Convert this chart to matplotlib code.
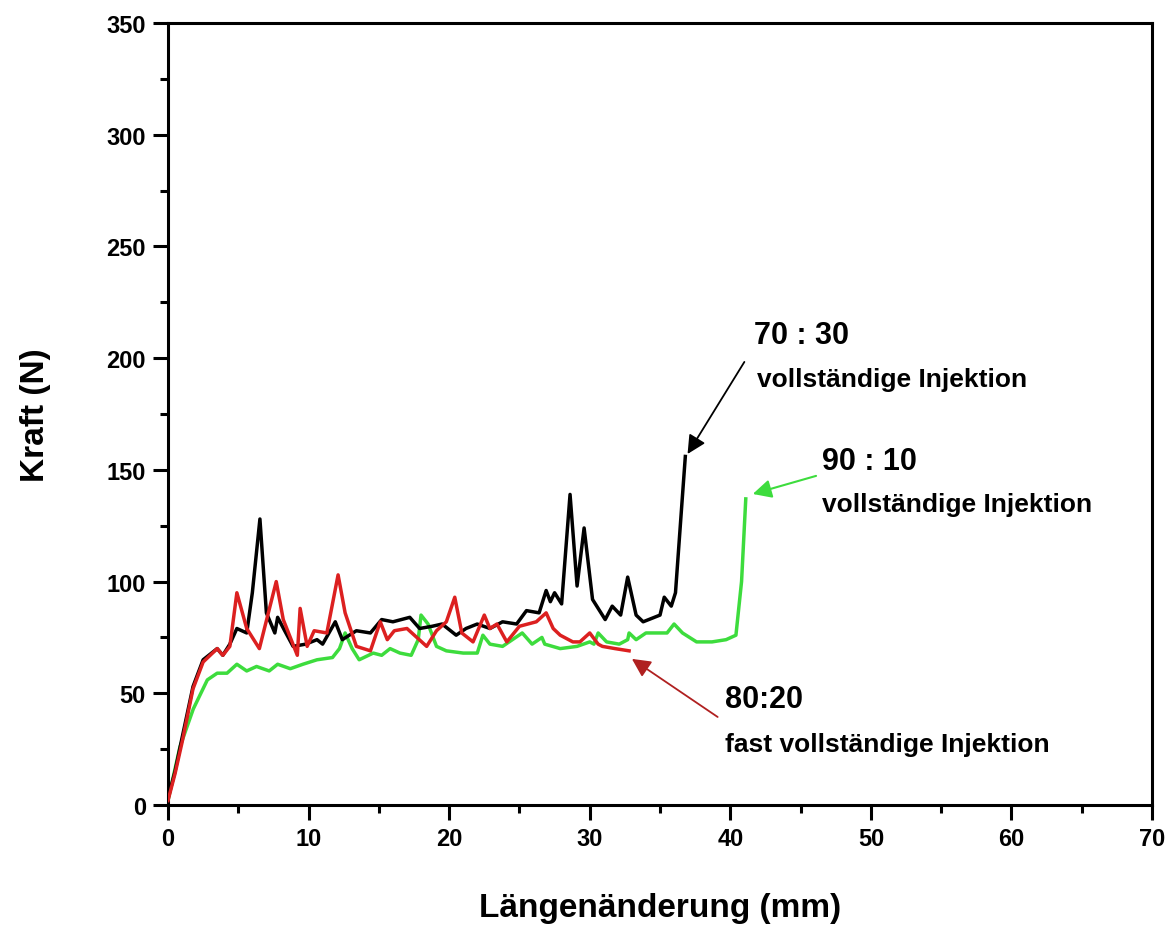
import matplotlib
matplotlib.use("Agg")
import matplotlib.pyplot as plt
from matplotlib.ticker import MultipleLocator

plt.rcParams['font.family'] = ['Liberation Sans', 'DejaVu Sans']
plt.rcParams['font.weight'] = 'bold'

# 70 : 30 (black)
x_7030 = [0, 0.5, 1.0, 1.78, 2.5, 3.5, 3.9, 4.4, 4.9, 5.6, 6.0, 6.54, 7.0, 7.6, 7.8,
          8.3, 8.9, 9.8, 10.6, 11.0, 11.9, 12.4, 13.4, 14.4, 15.2, 16.0, 17.2, 17.9,
          18.8, 19.5, 20.5, 21.2, 22.0, 22.9, 23.8, 24.8, 25.5, 26.4, 26.9, 27.2,
          27.5, 28.0, 28.6, 29.1, 29.6, 30.2, 31.1, 31.6, 32.2, 32.7, 33.3, 33.8,
          35.0, 35.3, 35.8, 36.1, 36.5, 36.8]
y_7030 = [3, 15, 30, 53, 65, 70, 67, 72, 79, 77, 95, 128, 86, 77, 84,
          78, 71, 72, 74, 72, 82, 74, 78, 77, 83, 82, 84, 79,
          80, 81, 76, 79, 81, 79, 82, 81, 87, 86, 96, 91,
          95, 90, 139, 98, 124, 92, 83, 89, 85, 102, 85, 82,
          85, 93, 89, 95, 130, 156]

# 80:20 (red)
x_8020 = [0, 0.5, 1.0, 1.78, 2.5, 3.5, 3.9, 4.4, 4.9, 5.6, 6.5, 7.7, 8.2, 9.2, 9.4,
          9.9, 10.4, 11.3, 12.1, 12.6, 13.4, 14.4, 15.1, 15.6, 16.1, 17.0, 18.4,
          19.1, 19.8, 20.4, 20.9, 21.7, 22.5, 22.9, 23.4, 24.1, 25.0, 26.2, 26.9,
          27.4, 27.9, 28.8, 29.3, 30.0, 30.6, 30.9, 31.8, 32.8]
y_8020 = [2, 14, 28, 52, 64, 70, 67, 71, 95, 79, 70, 100, 83, 67, 88,
          71, 78, 77, 103, 86, 71, 69, 82, 74, 78, 79, 71,
          78, 82, 93, 77, 73, 85, 79, 81, 73, 80, 82, 86,
          79, 76, 73, 73, 77, 72, 71, 70, 69]

# 90 : 10 (green)
x_9010 = [0, 0.85, 1.8, 2.8, 3.5, 4.2, 4.9, 5.6, 6.3, 7.2, 7.8, 8.7, 9.6, 10.6, 11.7,
          12.2, 12.6, 13.1, 13.6, 14.6, 15.2, 15.8, 16.5, 17.3, 17.8, 18.0, 18.5,
          19.1, 19.8, 21.0, 22.0, 22.4, 22.9, 23.8, 24.5, 25.2, 25.9, 26.6, 26.8,
          27.9, 29.1, 30.0, 30.3, 30.6, 31.2, 32.1, 32.7, 32.8, 33.3, 34.0, 35.5,
          36.0, 36.6, 37.6, 38.7, 39.7, 40.4, 40.8, 41.1]
y_9010 = [2, 26, 43, 56, 59, 59, 63, 60, 62, 60, 63, 61, 63, 65, 66,
          70, 77, 70, 65, 68, 67, 70, 68, 67, 74, 85, 81,
          71, 69, 68, 68, 76, 72, 71, 74, 77, 72, 75, 72,
          70, 71, 73, 72, 77, 73, 72, 74, 77, 74, 77, 77,
          81, 77, 73, 73, 74, 76, 100, 137]

fig = plt.figure(figsize=(11.69, 9.37), dpi=100)
ax = fig.add_axes([0.1437, 0.1398, 0.8418, 0.8346])

ax.plot(x_7030, y_7030, color='black', lw=2.5, zorder=3)
ax.plot(x_8020, y_8020, color='#dc2020', lw=2.5, zorder=4)
ax.plot(x_9010, y_9010, color='#3ddc3d', lw=2.5, zorder=2)

ax.set_xlim(0, 70)
ax.set_ylim(0, 350)
ax.xaxis.set_major_locator(MultipleLocator(10))
ax.xaxis.set_minor_locator(MultipleLocator(5))
ax.yaxis.set_major_locator(MultipleLocator(50))
ax.yaxis.set_minor_locator(MultipleLocator(25))
ax.tick_params(which='major', direction='out', length=11, width=2.2, labelsize=17, pad=5)
ax.tick_params(which='minor', direction='out', length=6, width=2.2)
for s in ax.spines.values():
    s.set_linewidth(2.2)
for lab in ax.get_xticklabels() + ax.get_yticklabels():
    lab.set_fontweight('bold')

ax.set_xlabel('Längenänderung (mm)', fontsize=24, fontweight='bold', labelpad=30)
ax.set_ylabel('Kraft (N)', fontsize=24, fontweight='bold', labelpad=40)

head_fs = 22
sub_fs = 19
ax.text(41.7, 210.4, '70 : 30', fontsize=head_fs, fontweight='bold', va='center')
ax.text(41.9, 190.7, 'vollständige Injektion', fontsize=sub_fs, fontweight='bold', va='center')
ax.text(46.5, 154, '90 : 10', fontsize=head_fs, fontweight='bold', va='center')
ax.text(46.5, 134.7, 'vollständige Injektion', fontsize=sub_fs, fontweight='bold', va='center')
ax.text(39.6, 47.4, '80:20', fontsize=head_fs, fontweight='bold', va='center')
ax.text(39.6, 27.3, 'fast vollständige Injektion', fontsize=sub_fs, fontweight='bold', va='center')

ax.annotate('', xy=(36.96, 157.1), xytext=(41.0, 198.3),
            arrowprops=dict(arrowstyle='-|>', color='black', lw=1.3, mutation_scale=28,
                            shrinkA=0, shrinkB=0))
ax.annotate('', xy=(41.6, 139.2), xytext=(46.1, 147.3),
            arrowprops=dict(arrowstyle='-|>', color='#3ddc3d', lw=1.5, mutation_scale=28,
                            shrinkA=0, shrinkB=0))
ax.annotate('', xy=(33.0, 65.4), xytext=(39.1, 39.4),
            arrowprops=dict(arrowstyle='-|>', color='#b02020', lw=1.3, mutation_scale=28,
                            shrinkA=0, shrinkB=0))

fig.savefig('out.png', dpi=100)
